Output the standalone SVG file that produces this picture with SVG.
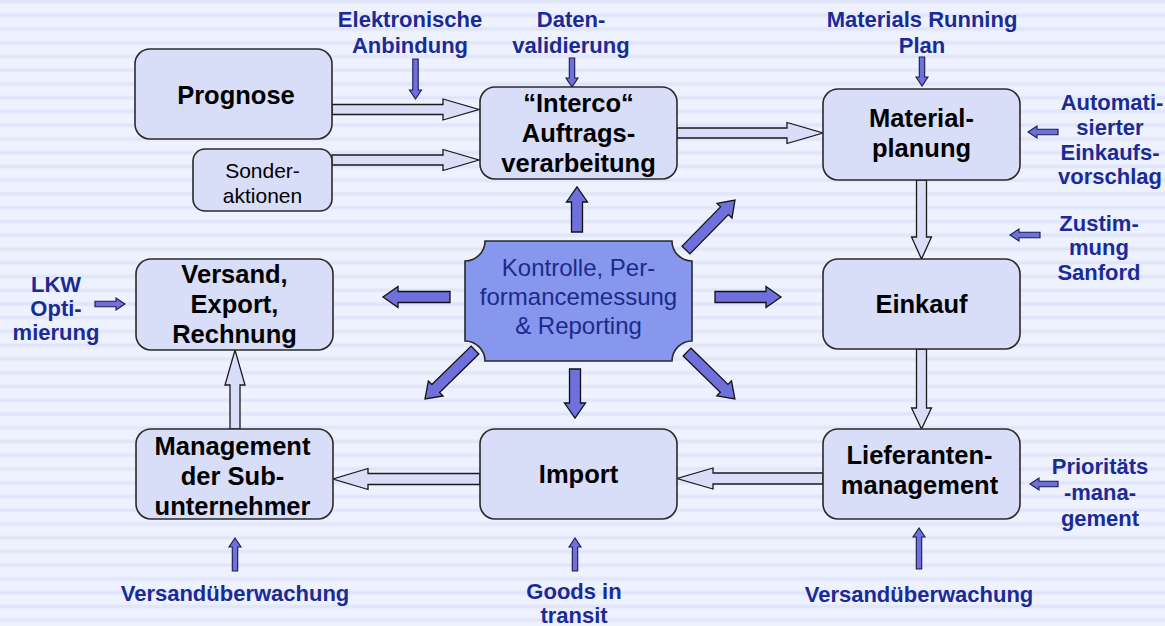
<svg xmlns="http://www.w3.org/2000/svg" width="1165" height="626" viewBox="0 0 1165 626">
<defs>
<linearGradient id="stripe" x1="0" y1="0" x2="0" y2="1">
<stop offset="0" stop-color="#eef2fe"/>
<stop offset="0.28" stop-color="#eef2fe"/>
<stop offset="0.5" stop-color="#dde2f8"/>
<stop offset="0.72" stop-color="#eef2fe"/>
<stop offset="1" stop-color="#eef2fe"/>
</linearGradient>
<pattern id="bg" x="0" y="-5.4" width="40" height="13.75" patternUnits="userSpaceOnUse">
<rect width="40" height="13.75" fill="url(#stripe)"/>
</pattern>
<style>
.box{fill:#d8ddf8;stroke:#2a2a2a;stroke-width:1.6}
.t{font-family:"Liberation Sans",Arial,sans-serif;font-weight:bold;font-size:25.5px;fill:#000;text-anchor:middle}
.tn{font-family:"Liberation Sans",Arial,sans-serif;font-size:21px;fill:#000;text-anchor:middle}
.lbl{font-family:"Liberation Sans",Arial,sans-serif;font-weight:bold;font-size:22px;fill:#1a2a96;text-anchor:middle}
.ct{font-family:"Liberation Sans",Arial,sans-serif;font-size:24px;fill:#1c2a8a;text-anchor:middle}
.hol{fill:#d8ddf8;stroke:#1a1a1a;stroke-width:1.3;stroke-linejoin:miter}
.thk{fill:#7070dc;stroke:#111;stroke-width:1.3}
.sm{fill:#7070dc;stroke:#1a1a4a;stroke-width:1.1}
.ctr{fill:#8797ee;stroke:#2a2a2a;stroke-width:1.6}
</style>
</defs>
<rect width="1165" height="626" fill="url(#bg)"/>

<g id="connectors">
<path class="hol" d="M332,104.5 H443 V99 L479,109.5 L443,120 V114.5 H332 Z"/>
<path class="hol" d="M332,155 H443 V149.5 L479,160 L443,170.5 V165 H332 Z"/>
<path class="hol" d="M677,128 H787 V122.5 L823,133 L787,143.5 V138 H677 Z"/>
<path class="hol" d="M916.5,180 V237 H911.5 L921.5,259 L931.5,237 H926.5 V180 Z"/>
<path class="hol" d="M916.5,349 V408 H911.5 L921.5,429 L931.5,408 H926.5 V349 Z"/>
<path class="hol" d="M823,473 H713 V468 L677,478.5 L713,489 V484 H823 Z"/>
<path class="hol" d="M480,473.5 H368 V468.5 L333,479 L368,489.5 V484.5 H480 Z"/>
<path class="hol" d="M230,429 V385 H225 L235,350 L245,385 H240 V429 Z"/>

<path class="thk" d="M0,-5.5H30V-10.5L45,0L30,10.5V5.5H0Z" transform="translate(577,232) rotate(-90)"/>
<path class="thk" d="M0,-5.5H34V-10.5L49,0L34,10.5V5.5H0Z" transform="translate(575,369) rotate(90)"/>
<path class="thk" d="M0,-5.5H52V-10.5L67,0L52,10.5V5.5H0Z" transform="translate(450,297) rotate(180)"/>
<path class="thk" d="M0,-5.5H51V-10.5L66,0L51,10.5V5.5H0Z" transform="translate(715,297)"/>
<path class="thk" d="M0,-5.5H55V-10.5L70,0L55,10.5V5.5H0Z" transform="translate(686,250) rotate(-45.6)"/>
<path class="thk" d="M0,-5.5H55V-10.5L70,0L55,10.5V5.5H0Z" transform="translate(475,350) rotate(135.6)"/>
<path class="thk" d="M0,-5.5H52V-10.5L67,0L52,10.5V5.5H0Z" transform="translate(687,352) rotate(44.4)"/>

<path class="sm" d="M0,-2.7H31V-6L40,0L31,6V2.7H0Z" transform="translate(415.5,59) rotate(90)"/>
<path class="sm" d="M0,-2.7H20V-6L29,0L20,6V2.7H0Z" transform="translate(572,58) rotate(90)"/>
<path class="sm" d="M0,-2.7H20V-6L29,0L20,6V2.7H0Z" transform="translate(922,57) rotate(90)"/>
<path class="sm" d="M0,-2.7H21V-6L30,0L21,6V2.7H0Z" transform="translate(1058,132) rotate(180)"/>
<path class="sm" d="M0,-2.7H21V-6L30,0L21,6V2.7H0Z" transform="translate(1040,235) rotate(180)"/>
<path class="sm" d="M0,-2.7H21V-6L30,0L21,6V2.7H0Z" transform="translate(95,304)"/>
<path class="sm" d="M0,-2.7H19V-6L28,0L19,6V2.7H0Z" transform="translate(1058,484) rotate(180)"/>
<path class="sm" d="M0,-2.7H24V-6L33,0L24,6V2.7H0Z" transform="translate(235,571) rotate(-90)"/>
<path class="sm" d="M0,-2.7H24V-6L33,0L24,6V2.7H0Z" transform="translate(575,571) rotate(-90)"/>
<path class="sm" d="M0,-2.7H32V-6L41,0L32,6V2.7H0Z" transform="translate(919,569) rotate(-90)"/>
</g>

<g id="prognose">
<rect class="box" x="135" y="49" width="197" height="90" rx="15"/>
<text class="t" x="236" y="104">Prognose</text>
</g>
<g id="sonderaktionen">
<rect class="box" x="193" y="149" width="139" height="62" rx="12"/>
<text class="tn" x="262.5" y="178">Sonder-</text>
<text class="tn" x="262.5" y="203">aktionen</text>
</g>
<g id="interco">
<rect class="box" x="480" y="87" width="197" height="92" rx="15"/>
<text class="t" x="578.5" y="112">“Interco“</text>
<text class="t" x="578.5" y="142">Auftrags-</text>
<text class="t" x="578.5" y="172">verarbeitung</text>
</g>
<g id="materialplanung">
<rect class="box" x="823" y="89" width="197" height="91" rx="15"/>
<text class="t" x="921.5" y="127">Material-</text>
<text class="t" x="921.5" y="157">planung</text>
</g>
<g id="einkauf">
<rect class="box" x="823" y="259" width="197" height="90" rx="15"/>
<text class="t" x="921.5" y="313">Einkauf</text>
</g>
<g id="lieferanten">
<rect class="box" x="823" y="429" width="197" height="90" rx="15"/>
<text class="t" x="919.5" y="464">Lieferanten-</text>
<text class="t" x="919.5" y="494">management</text>
</g>
<g id="import">
<rect class="box" x="480" y="429" width="197" height="90" rx="15"/>
<text class="t" x="578.5" y="483">Import</text>
</g>
<g id="management">
<rect class="box" x="136" y="429" width="197" height="90" rx="15"/>
<text class="t" x="232.5" y="455">Management</text>
<text class="t" x="232.5" y="485">der Sub-</text>
<text class="t" x="232.5" y="515">unternehmer</text>
</g>
<g id="versand">
<rect class="box" x="136" y="259" width="197" height="91" rx="15"/>
<text class="t" x="234.5" y="283">Versand,</text>
<text class="t" x="234.5" y="313">Export,</text>
<text class="t" x="234.5" y="343">Rechnung</text>
</g>
<g id="kontrolle">
<path class="ctr" d="M485,241 H672 A20,20 0 0 0 692,261 V341 A20,20 0 0 0 672,361 H485 A20,20 0 0 0 465,341 V261 A20,20 0 0 0 485,241 Z"/>
<text class="ct" x="578.5" y="276">Kontrolle, Per-</text>
<text class="ct" x="578.5" y="305">formancemessung</text>
<text class="ct" x="578.5" y="334">&amp; Reporting</text>
</g>

<g id="labels">
<text class="lbl" x="410" y="27">Elektronische</text>
<text class="lbl" x="410" y="53">Anbindung</text>
<text class="lbl" x="571" y="27">Daten-</text>
<text class="lbl" x="571" y="53">validierung</text>
<text class="lbl" x="922" y="27">Materials Running</text>
<text class="lbl" x="922" y="53">Plan</text>
<text class="lbl" x="1112" y="110">Automati-</text>
<text class="lbl" x="1110" y="135">sierter</text>
<text class="lbl" x="1110" y="160">Einkaufs-</text>
<text class="lbl" x="1110" y="184">vorschlag</text>
<text class="lbl" x="1099" y="231">Zustim-</text>
<text class="lbl" x="1099" y="255">mung</text>
<text class="lbl" x="1099" y="280">Sanford</text>
<text class="lbl" x="56" y="292">LKW</text>
<text class="lbl" x="56" y="316">Opti-</text>
<text class="lbl" x="56" y="340">mierung</text>
<text class="lbl" x="1100" y="474">Prioritäts</text>
<text class="lbl" x="1100" y="500">-mana-</text>
<text class="lbl" x="1100" y="526">gement</text>
<text class="lbl" x="235" y="601">Versandüberwachung</text>
<text class="lbl" x="574" y="599">Goods in</text>
<text class="lbl" x="574" y="623">transit</text>
<text class="lbl" x="919" y="602">Versandüberwachung</text>
</g>
</svg>
